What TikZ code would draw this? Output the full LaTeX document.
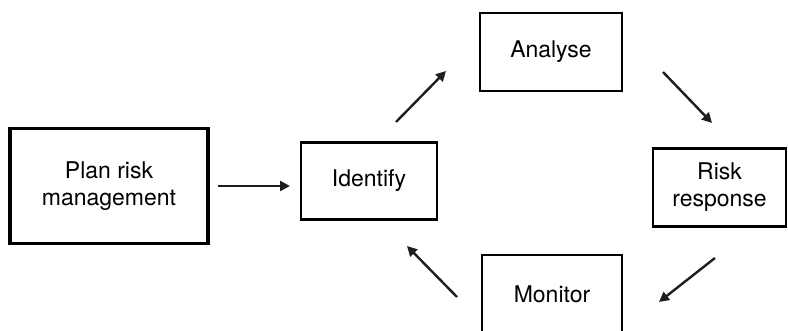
\documentclass[tikz,border=0pt]{standalone}
\usepackage{fontspec}
\setmainfont{TeX Gyre Heros}
\usetikzlibrary{arrows.meta}
\definecolor{ink}{HTML}{1E1E1E}
\tikzset{
  stagebox/.style={draw=black, line width=2.6pt, fill=white, align=center,
    inner sep=0pt, font=\fontsize{23}{27}\selectfont},
  mainbox/.style={stagebox, line width=3.8pt},
  flow/.style={draw=ink, line width=2.4pt,
    -{Triangle[length=10pt,width=10pt]}}
}
\begin{document}
\begin{tikzpicture}[x=1pt,y=-1pt]
  \useasboundingbox (0,0) rectangle (788,331);
  \clip (0,0) rectangle (788,331);
  \fill[white] (0,0) rectangle (788,331);

  % process stages
  \node[mainbox, minimum width=198pt, minimum height=115pt] (plan) at (109,186) {Plan risk\\management};
  \node[stagebox, minimum width=136pt, minimum height=77pt] (identify) at (369,181) {Identify};
  \node[stagebox, minimum width=142pt, minimum height=78pt] (analyse) at (551,52) {Analyse};
  \node[stagebox, minimum width=133pt, minimum height=78pt] (risk) at (719.5,187.5) {Risk\\response};
  \node[stagebox, minimum width=140pt, minimum height=78pt] (monitor) at (552,294) {Monitor};

  % free-standing arrow ends between the stages
  \coordinate (p1) at (218,186);  \coordinate (p2) at (290,186);
  \coordinate (i1) at (396,122);  \coordinate (i2) at (446,71);
  \coordinate (a1) at (663,72);   \coordinate (a2) at (712,123);
  \coordinate (r1) at (715,258);  \coordinate (r2) at (659,302);
  \coordinate (m1) at (457,297);  \coordinate (m2) at (407,246);

  \draw[flow] (p1) -- (p2);
  \draw[flow] (i1) -- (i2);
  \draw[flow] (a1) -- (a2);
  \draw[flow] (r1) -- (r2);
  \draw[flow] (m1) -- (m2);
\end{tikzpicture}
\end{document}
